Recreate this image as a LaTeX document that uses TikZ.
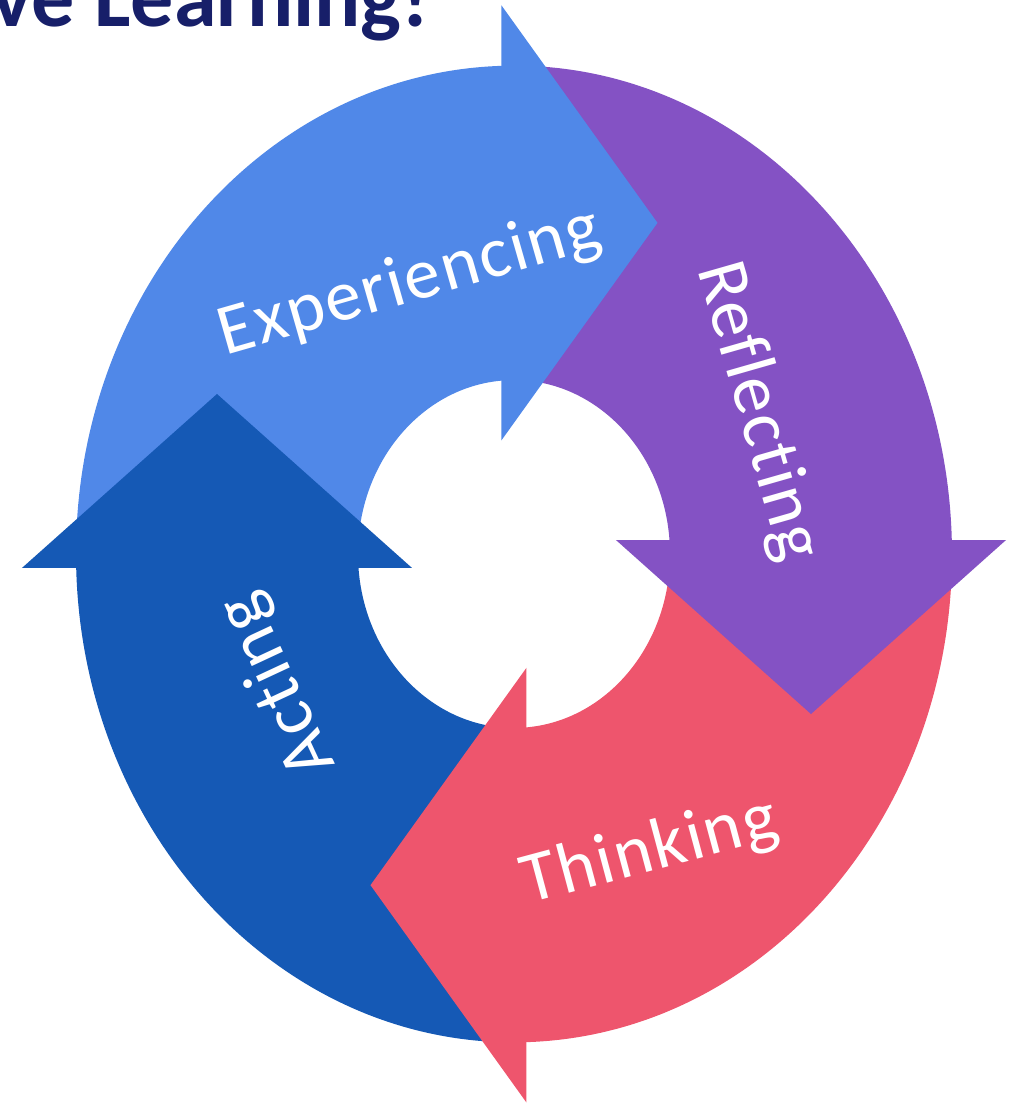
\documentclass[tikz,border=0pt]{standalone}
\usepackage{fontspec}
\setmainfont{Carlito}
\newfontfamily\stagefont{Carlito}[LetterSpace=2.5, Ligatures={NoCommon,NoRare,NoContextual}]
\usepackage{tikz}
\definecolor{expblue}{HTML}{5088E8}
\definecolor{reflpurple}{HTML}{8452C4}
\definecolor{thinkred}{HTML}{EE556D}
\definecolor{actblue}{HTML}{1559B5}
\definecolor{titlenavy}{HTML}{171F69}
\begin{document}
\begin{tikzpicture}[
  x=0.02cm, y=0.02cm,
  stage/.style={text=white, font=\stagefont\fontsize{41}{41}\selectfont},
  heading/.style={text=titlenavy, font=\fontsize{49}{49}\selectfont\bfseries}
]
\useasboundingbox (-514,-549) rectangle (506,554);

\begin{scope}[yscale=1.115]
  % arrow bodies
  \fill[expblue] (181.31:438) arc[start angle=181.31, end angle=91.44, radius=438]
    -- (94.04:156) arc[start angle=94.04, end angle=183.68, radius=156] -- cycle;
  \fill[reflpurple, rotate=-90] (181.31:438) arc[start angle=181.31, end angle=91.44, radius=438]
    -- (94.04:156) arc[start angle=94.04, end angle=183.68, radius=156] -- cycle;
  \fill[thinkred, rotate=-180] (181.31:438) arc[start angle=181.31, end angle=91.44, radius=438]
    -- (94.04:156) arc[start angle=94.04, end angle=183.68, radius=156] -- cycle;
  \fill[actblue, rotate=-270] (181.31:438) arc[start angle=181.31, end angle=91.44, radius=438]
    -- (94.04:156) arc[start angle=94.04, end angle=183.68, radius=156] -- cycle;
  % arrow heads
  \fill[expblue] (-12.5,102) -- (-12.5,492) -- (143.5,297) -- cycle;
  \fill[reflpurple, rotate=-90] (-12.5,102) -- (-12.5,492) -- (143.5,297) -- cycle;
  \fill[thinkred, rotate=-180] (-12.5,102) -- (-12.5,492) -- (143.5,297) -- cycle;
  \fill[actblue, rotate=-270] (-12.5,102) -- (-12.5,492) -- (143.5,297) -- cycle;
\end{scope}

\node[stage, rotate=16] (exp) at (-104,271) {Experiencing};
\node[stage, rotate=-74] (refl) at (244,142) {Reflecting};
\node[stage, rotate=15] (think) at (136,-298) {Thinking};
\node[stage, rotate=115] (act) at (-236,-131) {Acting};

\node[heading, anchor=base east, inner sep=0pt] (title) at (-84,527) {ve Learning!};
\end{tikzpicture}
\end{document}
